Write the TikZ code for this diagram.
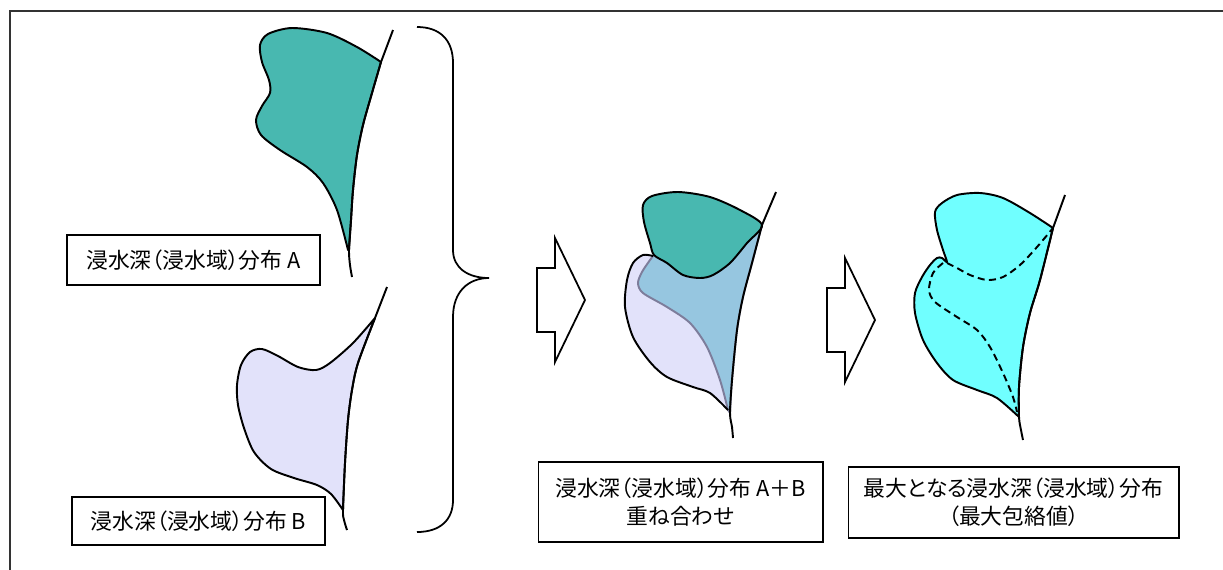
\documentclass[tikz,border=0pt]{standalone}
\usepackage{fontspec}
\setmainfont{Noto Sans CJK JP}[RawFeature=+palt]
\usetikzlibrary{positioning}

\definecolor{depthA}{RGB}{72,184,176}
\definecolor{depthB}{RGB}{226,226,250}
\definecolor{overlapAB}{RGB}{150,198,224}
\definecolor{envmax}{RGB}{112,255,255}
\definecolor{edgeAB}{RGB}{125,125,155}

\begin{document}
\begin{tikzpicture}[x=0.02cm, y=-0.02cm,
    outline/.style={line width=1.1pt, line join=round},
    textbox/.style={rectangle, draw, line width=0.6pt, align=center, inner sep=0pt,
      font=\fontsize{12.4pt}{16pt}\selectfont},
    blockarrow/.style={draw, line width=1pt, fill=white}]
  \useasboundingbox (0,0) rectangle (1223,569);
  \clip (0,0) rectangle (1223,569);
  % outer frame
  \draw[line width=1pt, black!80] (10,11) rectangle (1240,590);

  % distribution A
  \filldraw[outline, fill=depthA] plot[smooth] coordinates {(381,62) (357,47) (327,33) (292,28) (268,34) (260,45) (262,62) (269,80) (270,93) (262,106) (256,120) (261,135) (280,150) (307,167) (323,183) (337,210) (348,250)}
    -- plot[smooth] coordinates {(349,250) (351,220) (353,190) (357,155) (363,125) (372,93) (381,62)} -- cycle;
  \draw[outline] plot[smooth] coordinates {(352,277) (350,265) (349,250) (351,220) (353,190) (357,155) (363,125) (372,93) (381,62)} -- (393,30);
  \node[textbox, minimum width=5.06cm, minimum height=1cm] (boxA) at (193.5,260) {浸水深（浸水域）分布 A};

  % distribution B
  \filldraw[outline, fill=depthB] plot[smooth] coordinates {(375,318) (353,343) (330,363) (316,370) (298,367) (278,356) (262,349) (250,352) (241,365) (237,385) (238,405) (244,428) (254,452) (271,469) (294,478) (317,485) (331,494) (343,510)}
    -- plot[smooth] coordinates {(343,510) (345,463) (348,420) (352,390) (358,363) (375,318)} -- cycle;
  \draw[outline] (387,287) -- plot[smooth] coordinates {(375,318) (358,363) (352,390) (348,420) (345,463) (343,510) (344,520) (347,530)};
  \node[textbox, minimum width=5.06cm, minimum height=0.96cm] (boxB) at (198.5,521) {浸水深（浸水域）分布 B};

  % brace
  \draw[line width=1pt] (417,27) .. controls (440,27) and (453,40) .. (453,63) -- (453,250)
    .. controls (453,268) and (468,278) .. (489,278) .. controls (468,278) and (453,292) .. (453,317)
    -- (453,500) .. controls (453,520) and (440,532) .. (417,532);

  % arrows
  \foreach \ax/\ay in {537/300, 827/320}
    \draw[blockarrow] (\ax,\ay-32) -- ++(18,0) -- ++(0,-30) -- ++(30,62) -- ++(-30,62) -- ++(0,-30) -- ++(-18,0) -- cycle;

  % A+B overlaid
  \fill[depthB] plot[smooth] coordinates {(653,256) (643,255) (633,263) (627,280) (625,307) (633,337) (650,362) (667,377) (693,387) (710,393) (728,410)}
    -- plot[smooth] coordinates {(730,413) (732,380) (737,330) (743,297) (752,263) (762,225)} -- cycle;
  \filldraw[fill=overlapAB, draw=edgeAB, line width=1.1pt] plot[smooth] coordinates {(728,410) (720,380) (707,347) (690,323) (667,307) (643,293) (638,283) (642,272) (650,260) (653,256)}
    -- (762,225) -- plot[smooth] coordinates {(762,225) (752,263) (743,297) (737,330) (732,380) (730,413)} -- cycle;
  \draw[outline] plot[smooth] coordinates {(653,256) (643,255) (633,263) (627,280) (625,307) (633,337) (650,362) (667,377) (693,387) (710,393) (728,410)};
  \filldraw[outline, fill=depthA] plot[smooth cycle] coordinates {(762,225) (740,210) (710,197) (678,192) (652,196) (643,205) (644,222) (650,243) (654,255) (667,263) (683,275) (700,278) (713,275) (730,263) (747,243)};
  \draw[outline] (776,192) -- plot[smooth] coordinates {(762,225) (752,263) (743,297) (737,330) (732,380) (730,413) (732,427) (733,438)};
  \node[textbox, minimum width=5.7cm, minimum height=1.6cm] (boxAB) at (680.5,502) {浸水深（浸水域）分布 A＋B\\重ね合わせ};

  % maximum envelope
  \filldraw[outline, fill=envmax] plot[smooth] coordinates {(1053,228) (1030,213) (1003,198) (980,193) (957,195) (942,203) (935,212) (937,230) (943,250) (947,262) (942,258) (937,258) (930,265) (922,277) (915,293) (915,313) (923,340) (937,363) (953,380) (977,390) (997,398) (1019,417)}
    -- plot[smooth] coordinates {(1019,417) (1019,387) (1023,347) (1030,313) (1040,280) (1053,228)} -- cycle;
  \draw[outline] (1065,195) -- plot[smooth] coordinates {(1053,228) (1040,280) (1030,313) (1023,347) (1019,387) (1019,417) (1021,430) (1023,440)};
  \draw[line width=1.1pt, dash pattern=on 4pt off 2.5pt] plot[smooth] coordinates {(947,263) (957,268) (970,275) (987,280) (1003,277) (1020,265) (1037,247) (1053,228)};
  \draw[line width=1.1pt, dash pattern=on 4pt off 2.5pt] plot[smooth] coordinates {(943,263) (933,273) (929,290) (935,302) (957,317) (977,330) (990,347) (1003,373) (1013,397) (1017,412)};
  \node[textbox, minimum width=6.62cm, minimum height=1.42cm] (boxMax) at (1013.5,502.5) {最大となる浸水深（浸水域）分布\\（最大包絡値）};
\end{tikzpicture}
\end{document}
